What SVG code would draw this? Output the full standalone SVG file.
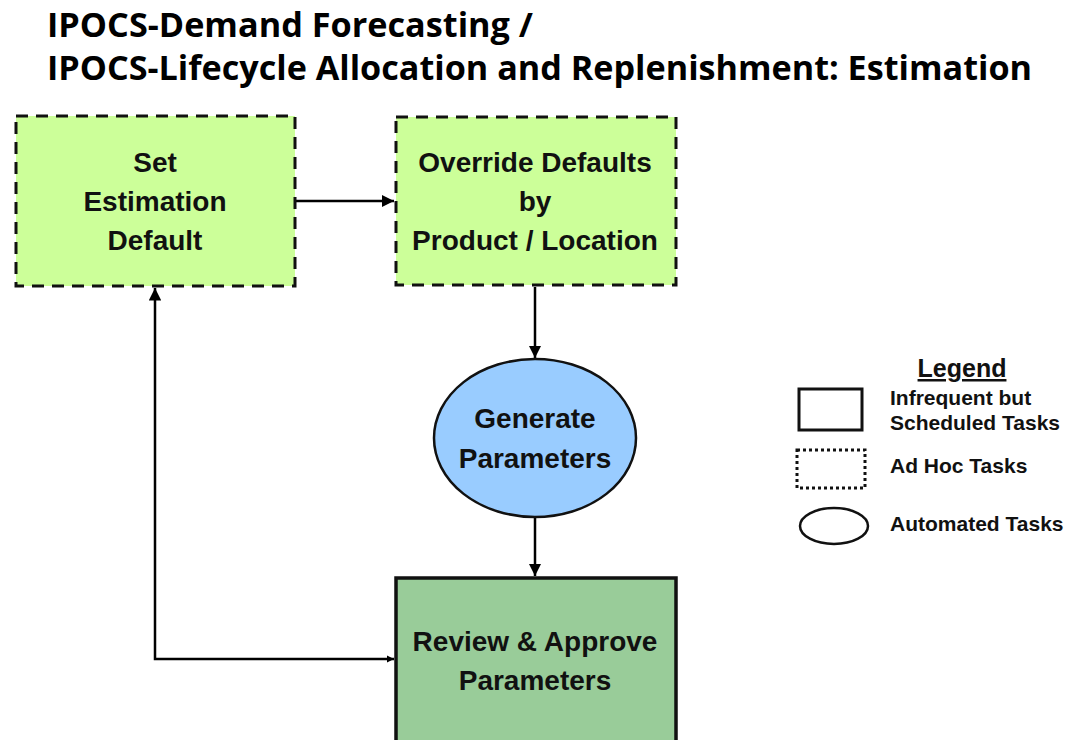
<svg xmlns="http://www.w3.org/2000/svg" width="1075" height="740" viewBox="0 0 1075 740">
<style>
.title{font-family:"Open Sans","Liberation Sans",sans-serif;font-weight:700;font-size:34px;fill:#000}
.lbl{font-family:"Liberation Sans",Arial,sans-serif;font-weight:700;font-size:28px;fill:#111;text-anchor:middle}
.leg{font-family:"Liberation Sans",Arial,sans-serif;font-weight:700;font-size:21px;fill:#111}
.adhoc{fill:#ccff99;stroke:#111;stroke-width:3;stroke-dasharray:12 8}
.conn{fill:none;stroke:#000;stroke-width:2.5}
</style>
<defs>
<marker id="ah" viewBox="0 0 10 10" refX="10" refY="5" markerWidth="5" markerHeight="5" orient="auto" markerUnits="strokeWidth">
<path d="M0,0 L10,5 L0,10 z" fill="#000"/>
</marker>
<marker id="ahs" viewBox="0 0 10 10" refX="0" refY="5" markerWidth="3" markerHeight="3" orient="auto" markerUnits="strokeWidth">
<path d="M10,0 L0,5 L10,10 z" fill="#000"/>
</marker>
</defs>
<rect width="1075" height="740" fill="#fff"/>
<g id="title">
<text class="title" x="47" y="37" textLength="486" lengthAdjust="spacingAndGlyphs">IPOCS-Demand Forecasting /</text>
<text class="title" x="47" y="80" textLength="985" lengthAdjust="spacingAndGlyphs">IPOCS-Lifecycle Allocation and Replenishment: Estimation</text>
</g>
<g id="connectors">
<line class="conn" x1="295" y1="201" x2="394" y2="201" marker-end="url(#ah)"/>
<line class="conn" x1="535" y1="287" x2="535" y2="358" marker-end="url(#ah)"/>
<line class="conn" x1="535" y1="518" x2="535" y2="576" marker-end="url(#ah)"/>
<polyline class="conn" points="394,659 155,659 155,288" marker-start="url(#ahs)" marker-end="url(#ah)"/>
</g>
<g id="set-estimation-default">
<rect class="adhoc" x="16" y="116" width="279" height="170"/>
<text class="lbl" x="155" y="172">Set</text>
<text class="lbl" x="155" y="211">Estimation</text>
<text class="lbl" x="155" y="250">Default</text>
</g>
<g id="override-defaults">
<rect class="adhoc" x="396" y="117" width="280" height="168"/>
<text class="lbl" x="535" y="172">Override Defaults</text>
<text class="lbl" x="535" y="211">by</text>
<text class="lbl" x="535" y="250">Product / Location</text>
</g>
<g id="generate-parameters">
<ellipse cx="535" cy="438" rx="101" ry="79" fill="#99ccff" stroke="#111" stroke-width="2.5"/>
<text class="lbl" x="535" y="428">Generate</text>
<text class="lbl" x="535" y="468">Parameters</text>
</g>
<g id="review-approve">
<rect x="396" y="578" width="280" height="170" fill="#99cc99" stroke="#111" stroke-width="3.5"/>
<text class="lbl" x="535" y="651">Review &amp; Approve</text>
<text class="lbl" x="535" y="690">Parameters</text>
</g>
<g id="legend">
<text class="leg" x="962" y="377" text-anchor="middle" text-decoration="underline" style="font-size:25px">Legend</text>
<rect x="799" y="389" width="63" height="41" fill="#fff" stroke="#111" stroke-width="3"/>
<text class="leg" x="890" y="405">Infrequent but</text>
<text class="leg" x="890" y="430">Scheduled Tasks</text>
<rect x="797" y="450" width="68" height="38" fill="#fff" stroke="#111" stroke-width="3" stroke-dasharray="3 3"/>
<text class="leg" x="890" y="473">Ad Hoc Tasks</text>
<ellipse cx="834" cy="526" rx="34" ry="18" fill="#fff" stroke="#111" stroke-width="2.5"/>
<text class="leg" x="890" y="531">Automated Tasks</text>
</g>
</svg>
